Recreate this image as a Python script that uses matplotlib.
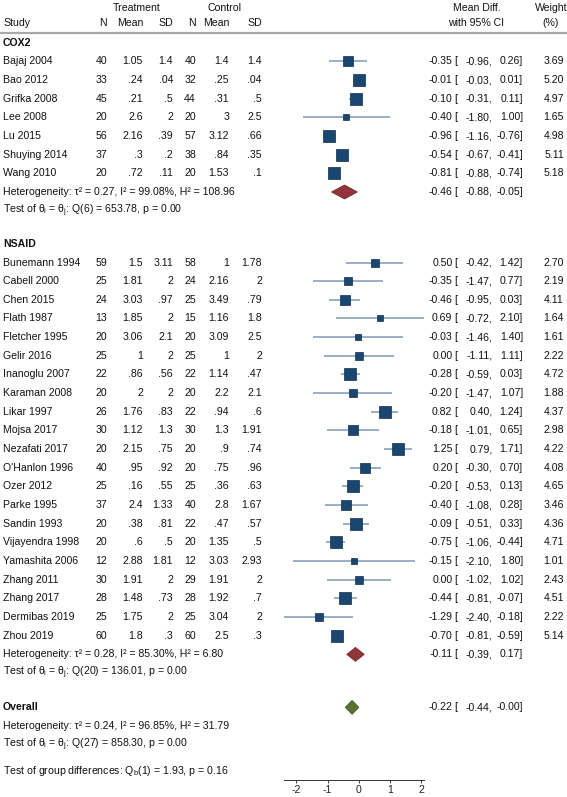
import matplotlib
matplotlib.use("Agg")
import matplotlib.pyplot as plt
from matplotlib.patches import Polygon
import numpy as np

plt.rcParams['font.family'] = ['Liberation Sans', 'DejaVu Sans']
plt.rcParams['mathtext.fontset'] = 'custom'
plt.rcParams['mathtext.rm'] = 'Liberation Sans'
plt.rcParams['mathtext.it'] = 'Liberation Sans'
plt.rcParams['mathtext.default'] = 'rm'

# ---------------- data ----------------
cox2_study = ["Bajaj 2004", "Bao 2012", "Grifka 2008", "Lee 2008", "Lu 2015",
              "Shuying 2014", "Wang 2010"]
cox2_n1 = [40, 33, 45, 20, 56, 37, 20]
cox2_m1 = [1.05, .24, .21, 2.6, 2.16, .3, .72]
cox2_sd1 = [1.4, .04, .5, 2, .39, .2, .11]
cox2_n2 = [40, 32, 44, 20, 57, 38, 20]
cox2_m2 = [1.4, .25, .31, 3, 3.12, .84, 1.53]
cox2_sd2 = [1.4, .04, .5, 2.5, .66, .35, .1]
cox2_est = [-0.35, -0.01, -0.10, -0.40, -0.96, -0.54, -0.81]
cox2_lo = [-0.96, -0.03, -0.31, -1.80, -1.16, -0.67, -0.88]
cox2_hi = [0.26, 0.01, 0.11, 1.00, -0.76, -0.41, -0.74]
cox2_w = [3.69, 5.20, 4.97, 1.65, 4.98, 5.11, 5.18]
cox2_pooled = (-0.46, -0.88, -0.05)

nsaid_study = ["Bunemann 1994", "Cabell 2000", "Chen 2015", "Flath 1987", "Fletcher 1995",
               "Gelir 2016", "Inanoglu 2007", "Karaman 2008", "Likar 1997", "Mojsa 2017",
               "Nezafati 2017", "O'Hanlon 1996", "Ozer 2012", "Parke 1995", "Sandin 1993",
               "Vijayendra 1998", "Yamashita 2006", "Zhang 2011", "Zhang 2017",
               "Dermibas 2019", "Zhou 2019"]
nsaid_n1 = [59, 25, 24, 13, 20, 25, 22, 20, 26, 30, 20, 40, 25, 37, 20, 20, 12, 30, 28, 25, 60]
nsaid_m1 = [1.5, 1.81, 3.03, 1.85, 3.06, 1, .86, 2, 1.76, 1.12, 2.15, .95, .16, 2.4, .38,
            .6, 2.88, 1.91, 1.48, 1.75, 1.8]
nsaid_sd1 = [3.11, 2, .97, 2, 2.1, 2, .56, 2, .83, 1.3, .75, .92, .55, 1.33, .81, .5, 1.81,
             2, .73, 2, .3]
nsaid_n2 = [58, 24, 25, 15, 20, 25, 22, 20, 22, 30, 20, 20, 25, 40, 22, 20, 12, 29, 28, 25, 60]
nsaid_m2 = [1, 2.16, 3.49, 1.16, 3.09, 1, 1.14, 2.2, .94, 1.3, .9, .75, .36, 2.8, .47, 1.35,
            3.03, 1.91, 1.92, 3.04, 2.5]
nsaid_sd2 = [1.78, 2, .79, 1.8, 2.5, 2, .47, 2.1, .6, 1.91, .74, .96, .63, 1.67, .57, .5,
             2.93, 2, .7, 2, .3]
nsaid_est = [0.50, -0.35, -0.46, 0.69, -0.03, 0.00, -0.28, -0.20, 0.82, -0.18, 1.25, 0.20,
             -0.20, -0.40, -0.09, -0.75, -0.15, 0.00, -0.44, -1.29, -0.70]
nsaid_lo = [-0.42, -1.47, -0.95, -0.72, -1.46, -1.11, -0.59, -1.47, 0.40, -1.01, 0.79, -0.30,
            -0.53, -1.08, -0.51, -1.06, -2.10, -1.02, -0.81, -2.40, -0.81]
nsaid_hi = [1.42, 0.77, 0.03, 2.10, 1.40, 1.11, 0.03, 1.07, 1.24, 0.65, 1.71, 0.70, 0.13,
            0.28, 0.33, -0.44, 1.80, 1.02, -0.07, -0.18, -0.59]
nsaid_w = [2.70, 2.19, 4.11, 1.64, 1.61, 2.22, 4.72, 1.88, 4.37, 2.98, 4.22, 4.08, 4.65,
           3.46, 4.36, 4.71, 1.01, 2.43, 4.51, 2.22, 5.14]
nsaid_pooled = (-0.11, -0.39, 0.17)

overall_pooled = (-0.22, -0.44, -0.00)

cox2_het = "Heterogeneity: \u03c4\u00b2 = 0.27, I\u00b2 = 99.08%, H\u00b2 = 108.96"
cox2_test = r"Test of $\theta_i$ = $\theta_j$: Q(6) = 653.78, p = 0.00"
nsaid_het = "Heterogeneity: \u03c4\u00b2 = 0.28, I\u00b2 = 85.30%, H\u00b2 = 6.80"
nsaid_test = r"Test of $\theta_i$ = $\theta_j$: Q(20) = 136.01, p = 0.00"
overall_het = "Heterogeneity: \u03c4\u00b2 = 0.24, I\u00b2 = 96.85%, H\u00b2 = 31.79"
overall_test = r"Test of $\theta_i$ = $\theta_j$: Q(27) = 858.30, p = 0.00"
group_test = r"Test of group differences: Q$_b$(1) = 1.93, p = 0.16"

x_ticks = [-2, -1, 0, 1, 2]

# ---------------- layout ----------------
W, H = 567, 797
DPI = 100
FS = 7.6
fig = plt.figure(figsize=(W / DPI, H / DPI), dpi=DPI)
bg = fig.add_axes([0, 0, 1, 1])
bg.set_xlim(0, W)
bg.set_ylim(H, 0)
bg.axis('off')

AXIS_Y = 779.5
X0, X1 = 284.0, 424.5
XMIN, XMAX = -2.4, 2.1
ax = fig.add_axes([X0 / W, (H - AXIS_Y) / H, (X1 - X0) / W, AXIS_Y / H])
ax.set_xlim(XMIN, XMAX)
ax.set_ylim(AXIS_Y, 0)
ax.patch.set_alpha(0)
for s in ['top', 'right', 'left']:
    ax.spines[s].set_visible(False)
ax.spines['bottom'].set_linewidth(0.7)
ax.spines['bottom'].set_color('#333333')
ax.set_yticks([])
ax.set_xticks(x_ticks)
ax.set_xticklabels([str(t) for t in x_ticks])
ax.tick_params(axis='x', direction='out', length=2.5, width=0.6, pad=1.5,
               labelsize=FS, colors='#222222')

col_right = [107, 143, 173, 196, 229, 262]
TXT = '#111111'

def txt(x, y, s, ha='left', bold=False):
    bg.text(x, y, s, ha=ha, va='center', fontsize=FS, color=TXT,
            fontweight='bold' if bold else 'normal')

def sfmt(v):
    s = f"{v:g}"
    if s.startswith("0."):
        s = s[1:]
    return s

# headers
txt(137, 7.5, "Treatment", ha='center')
txt(224, 7.5, "Control", ha='center')
txt(3, 23, "Study")
for xr, lab in zip(col_right, ["N", "Mean", "SD", "N", "Mean", "SD"]):
    txt(xr, 23, lab, ha='right')
txt(477, 7.5, "Mean Diff.", ha='center')
txt(476, 23, "with 95% CI", ha='center')
txt(551, 7.5, "Weight", ha='center')
txt(551, 23, "(%)", ha='center')
bg.plot([0, W], [32.5, 32.5], color='#a8a8a8', lw=1.6, solid_capstyle='butt')

ROW = 18.66
K = 5.39  # px side per sqrt(weight)

def ci_text(y, est, lo, hi, w=None):
    txt(452.5, y, f"{est:.2f}", ha='right')
    txt(456, y, "[", ha='center')
    txt(492.5, y, f"{lo:.2f},", ha='right')
    txt(523, y, f"{hi:.2f}]", ha='right')
    if w is not None:
        txt(564, y, f"{w:.2f}", ha='right')

def diamond(y, est, lo, hi, color, edge):
    hh = 7.0
    poly = Polygon([(lo, y), (est, y - hh), (hi, y), (est, y + hh)], closed=True,
                   facecolor=color, edgecolor=edge, lw=0.5, zorder=3)
    ax.add_patch(poly)

def group(y, title, study, n1, m1, sd1, n2, m2, sd2, est, lo, hi, w, pooled, het, test, dcol):
    txt(3, y, title, bold=True)
    y += ROW
    for i in range(len(study)):
        txt(3, y, study[i])
        for xr, v in zip(col_right, [n1[i], m1[i], sd1[i], n2[i], m2[i], sd2[i]]):
            txt(xr, y, sfmt(v), ha='right')
        ax.plot([lo[i], hi[i]], [y, y], color='#7d98bb', lw=1.1, zorder=2,
                solid_capstyle='butt')
        side_pt = K * np.sqrt(w[i]) * 72 / DPI
        ax.plot([est[i]], [y], marker='s', markersize=side_pt, color='#1a476f',
                markeredgecolor='#0f2d4d', markeredgewidth=0.5, zorder=3, ls='none')
        ci_text(y, est[i], lo[i], hi[i], w[i])
        y += ROW
    txt(3, y, het)
    diamond(y, *pooled, dcol, '#6e1e24')
    ci_text(y, *pooled)
    y += ROW
    txt(3, y, test)
    return y

y = 42.7
y = group(y, "COX2", cox2_study, cox2_n1, cox2_m1, cox2_sd1, cox2_n2, cox2_m2, cox2_sd2,
          cox2_est, cox2_lo, cox2_hi, cox2_w, cox2_pooled, cox2_het, cox2_test, '#90353b')
y += ROW * 1.78
y = group(y, "NSAID", nsaid_study, nsaid_n1, nsaid_m1, nsaid_sd1, nsaid_n2, nsaid_m2,
          nsaid_sd2, nsaid_est, nsaid_lo, nsaid_hi, nsaid_w, nsaid_pooled, nsaid_het,
          nsaid_test, '#90353b')
y += ROW * 1.84
txt(3, y, "Overall", bold=True)
diamond(y, *overall_pooled, '#55752f', '#3b5420')
ci_text(y, *overall_pooled)
y += ROW
txt(3, y, overall_het)
y += ROW
txt(3, y, overall_test)
y += ROW * 1.4
txt(3, y, group_test)

fig.savefig("out.png", dpi=DPI)
